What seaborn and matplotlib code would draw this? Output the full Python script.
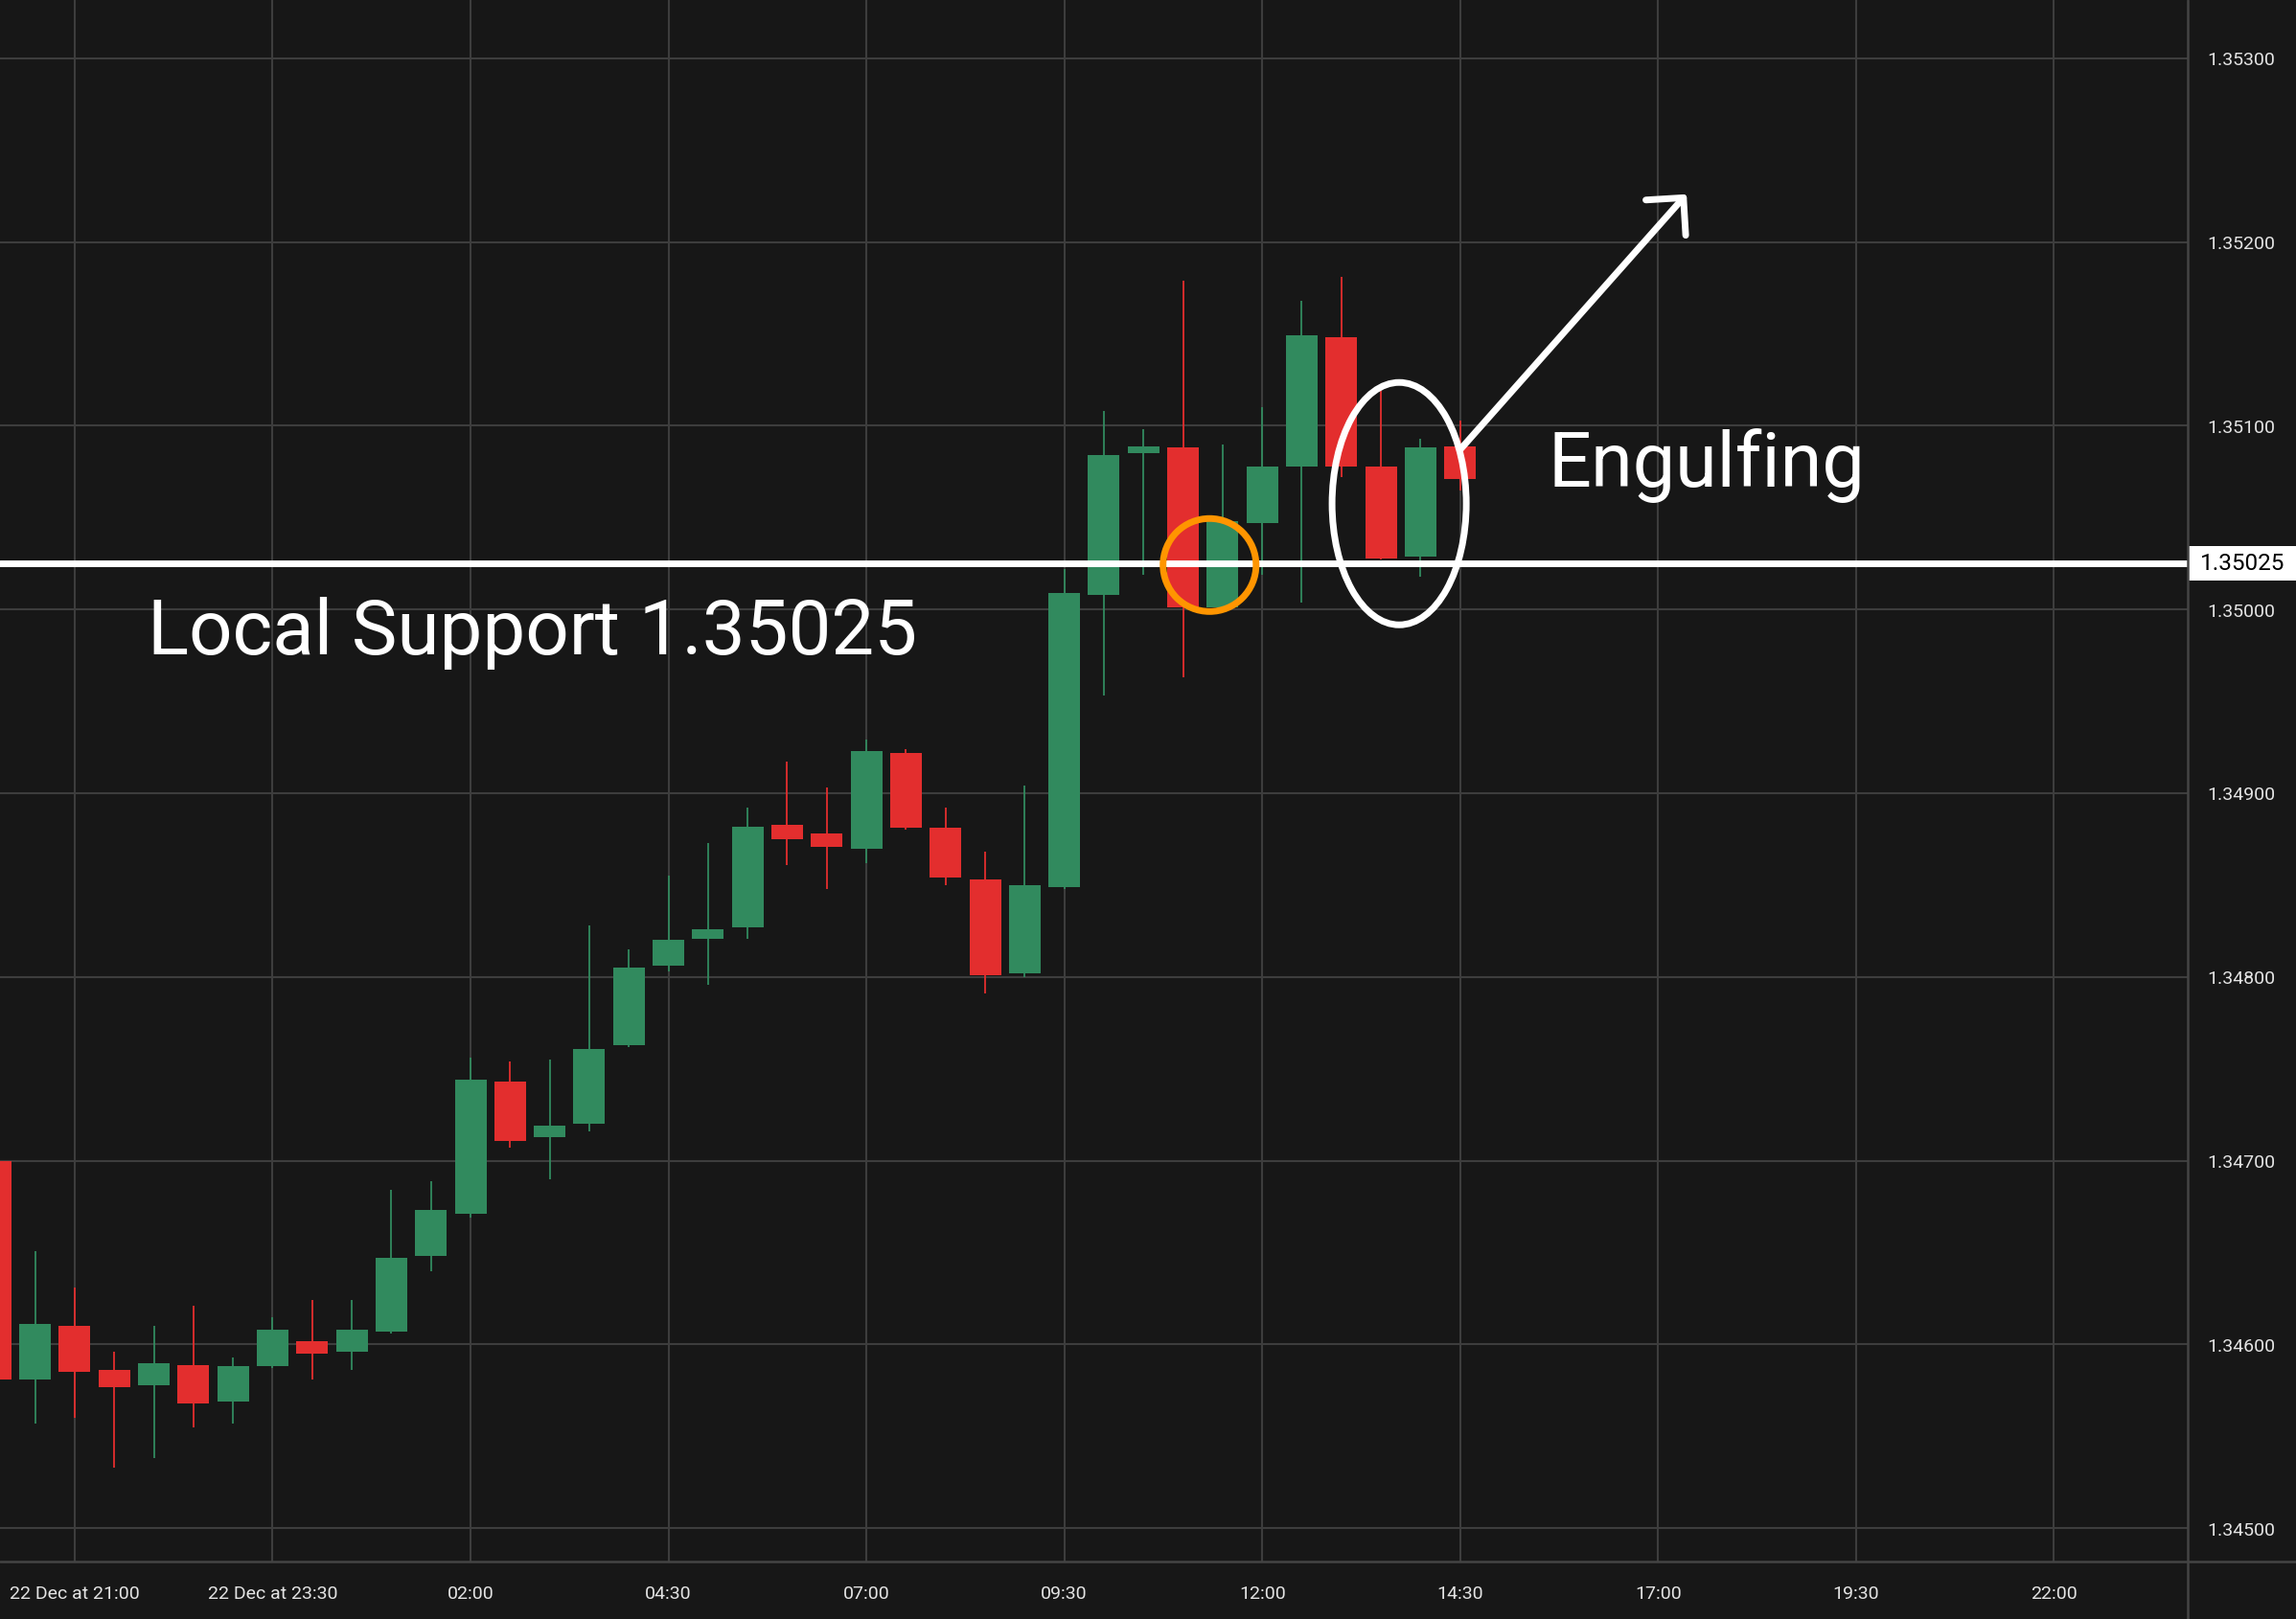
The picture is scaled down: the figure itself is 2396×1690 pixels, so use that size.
import matplotlib
matplotlib.use("Agg")
import matplotlib.pyplot as plt
import seaborn as sns
import numpy as np
import pandas as pd
from matplotlib.patches import Ellipse, Rectangle, FancyArrowPatch, ArrowStyle
from matplotlib.lines import Line2D
import matplotlib.transforms as mtransforms

# ---------------- data (30-minute candles, 22 Dec 20:00 -> 23 Dec 14:30) ----------------
times = ["20:00", "20:30", "21:00", "21:30", "22:00", "22:30", "23:00", "23:30",
         "00:00", "00:30", "01:00", "01:30", "02:00", "02:30", "03:00", "03:30",
         "04:00", "04:30", "05:00", "05:30", "06:00", "06:30", "07:00", "07:30",
         "08:00", "08:30", "09:00", "09:30", "10:00", "10:30", "11:00", "11:30",
         "12:00", "12:30", "13:00", "13:30", "14:00", "14:30"]
opens = [1.34700, 1.34581, 1.34610, 1.34586, 1.34578, 1.34589, 1.34569, 1.34588,
         1.34602, 1.34596, 1.34607, 1.34648, 1.34671, 1.34743, 1.34713, 1.34720,
         1.34763, 1.34806, 1.34821, 1.34827, 1.34883, 1.34878, 1.34870, 1.34922,
         1.34881, 1.34853, 1.34802, 1.34849, 1.35008, 1.35085, 1.35088, 1.35001,
         1.35047, 1.35078, 1.35148, 1.35078, 1.35029, 1.35089]
highs = [1.34702, 1.34651, 1.34631, 1.34596, 1.34610, 1.34621, 1.34593, 1.34615,
         1.34624, 1.34624, 1.34684, 1.34689, 1.34756, 1.34754, 1.34755, 1.34828,
         1.34815, 1.34855, 1.34873, 1.34892, 1.34917, 1.34903, 1.34929, 1.34924,
         1.34892, 1.34868, 1.34904, 1.35022, 1.35108, 1.35098, 1.35179, 1.35090,
         1.35110, 1.35168, 1.35181, 1.35119, 1.35093, 1.35103]
lows = [1.34575, 1.34557, 1.34560, 1.34533, 1.34538, 1.34555, 1.34557, 1.34587,
        1.34581, 1.34586, 1.34606, 1.34640, 1.34669, 1.34707, 1.34690, 1.34716,
        1.34762, 1.34803, 1.34796, 1.34821, 1.34861, 1.34848, 1.34862, 1.34880,
        1.34850, 1.34791, 1.34800, 1.34848, 1.34953, 1.35019, 1.34963, 1.35000,
        1.35019, 1.35004, 1.35072, 1.35027, 1.35018, 1.35065]
closes = [1.34581, 1.34611, 1.34585, 1.34577, 1.34590, 1.34568, 1.34588, 1.34608,
          1.34595, 1.34608, 1.34647, 1.34673, 1.34744, 1.34711, 1.34719, 1.34761,
          1.34805, 1.34820, 1.34826, 1.34882, 1.34875, 1.34871, 1.34923, 1.34881,
          1.34854, 1.34801, 1.34850, 1.35009, 1.35084, 1.35089, 1.35001, 1.35048,
          1.35078, 1.35149, 1.35078, 1.35028, 1.35088, 1.35071]

price_ticks = [1.34500, 1.34600, 1.34700, 1.34800, 1.34900, 1.35000, 1.35100, 1.35200, 1.35300]
price_labels = ["1.34500", "1.34600", "1.34700", "1.34800", "1.34900",
                "1.35000", "1.35100", "1.35200", "1.35300"]
time_tick_labels = ["22 Dec at 21:00", "22 Dec at 23:30", "02:00", "04:30", "07:00",
                    "09:30", "12:00", "14:30", "17:00", "19:30", "22:00"]
support_level = 1.35025
support_text = "Local Support 1.35025"
pattern_text = "Engulfing"

# ---------------- style ----------------
BG = "#171717"
GRID = "#3d3d3d"
GREEN = "#318A5E"
RED = "#E32E2E"
TXT = "#e4e4e4"

sns.set_theme(style="dark", rc={"axes.facecolor": BG, "figure.facecolor": BG})
plt.rcParams["font.family"] = ["Roboto", "DejaVu Sans"]

df = pd.DataFrame({"time": times, "open": opens, "high": highs, "low": lows, "close": closes})
df["x"] = np.arange(len(df))
df["up"] = df["close"] >= df["open"]
df["color"] = np.where(df["up"], GREEN, RED)

W, H = 2396, 1690
fig = plt.figure(figsize=(W / 100 + 0.004, H / 100 + 0.004), dpi=100)
ax_right_px = 2283
ax_bottom_px = 1630
ax = fig.add_axes([0, (H - ax_bottom_px) / H, ax_right_px / W, ax_bottom_px / H])
ax.set_facecolor(BG)

# wicks and bodies
ax.vlines(df["x"], df["low"], df["high"], colors=df["color"], linewidth=1.3, zorder=3)
ax.bar(df["x"], (df["close"] - df["open"]).abs(), bottom=df[["open", "close"]].min(axis=1),
       width=0.8, color=df["color"], linewidth=0, zorder=4)

ax.set_xlim(0.113, 55.39)
ax.set_ylim(1.344819, 1.353319)

# grid / ticks
tick_pos = [2 + 5 * k for k in range(len(time_tick_labels))]
ax.set_xticks(tick_pos)
ax.set_xticklabels(time_tick_labels)
ax.set_yticks(price_ticks)
ax.set_yticklabels(price_labels)
ax.yaxis.tick_right()
ax.tick_params(axis="both", length=0, colors=TXT, labelsize=14)
ax.tick_params(axis="y", pad=14)
ax.tick_params(axis="x", pad=18)
ax.grid(True, color=GRID, linewidth=1.5, zorder=0)
ax.set_axisbelow(True)
for s in ax.spines.values():
    s.set_visible(False)

# frame lines of the price / time scales
fig.add_artist(Line2D([ax_right_px / W] * 2, [0, 1], transform=fig.transFigure,
                      color="#444444", linewidth=1.8))
fig.add_artist(Line2D([0, 1], [(H - ax_bottom_px) / H] * 2, transform=fig.transFigure,
                      color="#444444", linewidth=1.8))

# support line and its price label
ax.axhline(support_level, color="white", linewidth=5, zorder=6)
trans = mtransforms.blended_transform_factory(ax.transAxes, ax.transData)
box_h = 36 / 191775
ax.add_patch(Rectangle((1.0, support_level - box_h / 2), W / ax_right_px - 1.0, box_h,
                       transform=trans, facecolor="white", edgecolor="none",
                       clip_on=False, zorder=7))
ax.text(2340 / ax_right_px, support_level, f"{support_level:.5f}", transform=trans,
        ha="center", va="center", color="black", fontsize=17.5, clip_on=False, zorder=8)

# annotations
ax.text(3.85, 1.349757, support_text, color="white", fontsize=57.5,
        ha="left", va="baseline", zorder=8)
ax.text(39.22, 1.350670, pattern_text, color="white", fontsize=57,
        ha="left", va="baseline", zorder=8)

ax.add_patch(Ellipse((30.67, 1.350242), 2.35, 0.000506, facecolor="none",
                     edgecolor="#FF9500", linewidth=5, zorder=7))
ax.add_patch(Ellipse((35.46, 1.350576), 3.39, 0.001319, facecolor="none",
                     edgecolor="white", linewidth=5, zorder=7))
arrow = FancyArrowPatch((37.0, 1.35087), (42.72, 1.35226),
                        arrowstyle=ArrowStyle("->", head_length=20, head_width=20),
                        mutation_scale=1, color="white", linewidth=5,
                        shrinkA=0, shrinkB=0, zorder=8)
ax.add_patch(arrow)

fig.savefig("out.png", dpi=100, facecolor=BG)
